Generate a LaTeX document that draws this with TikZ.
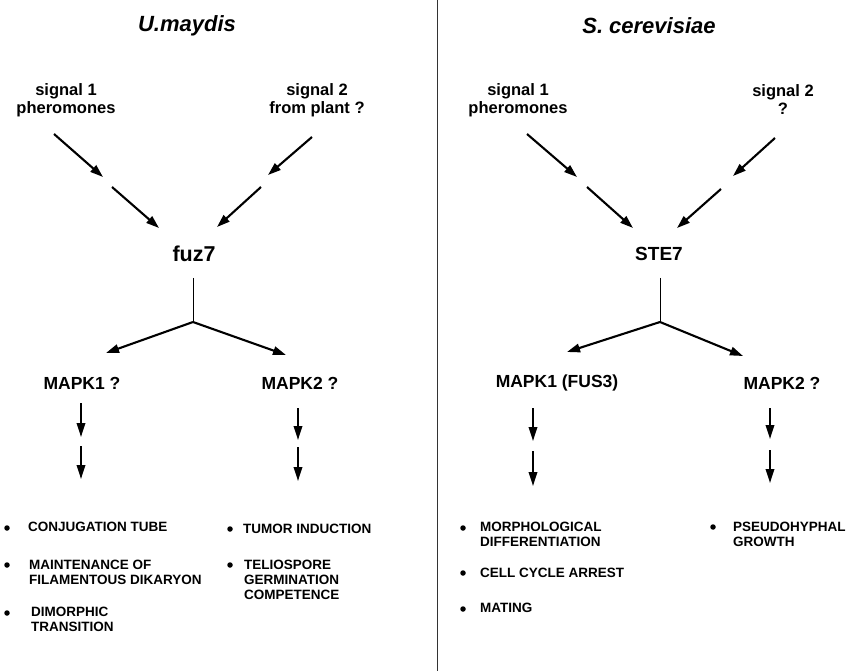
\documentclass[tikz,border=0pt]{standalone}
\usepackage{fontspec}
\setmainfont{Liberation Sans}
\usetikzlibrary{arrows.meta}
\begin{document}
\begin{tikzpicture}[x=1pt,y=-1pt,
  ttl/.style={font=\fontsize{22}{24}\selectfont\bfseries\itshape, inner sep=0},
  sig/.style={font=\fontsize{16.5}{18}\selectfont\bfseries, align=center, inner sep=0},
  kin/.style={font=\fontsize{21.5}{24}\selectfont\bfseries, inner sep=0},
  mapk/.style={font=\fontsize{17.5}{19}\selectfont\bfseries, inner sep=0},
  itm/.style={font=\fontsize{13.5}{15}\selectfont\bfseries, align=left, inner sep=0, anchor=north west},
  bul/.style={circle, fill=black, inner sep=0, minimum size=5.5pt},
  arr/.style={line width=2.1pt, -{Triangle[length=13pt,width=8.5pt]}},
  darr/.style={line width=1.8pt, -{Triangle[length=14pt,width=8.5pt]}},
  stem/.style={line width=1pt},
]
\useasboundingbox (0,0) rectangle (852,671);
\fill[white] (0,0) rectangle (852,671);

% divider
\coordinate (dtop) at (437,0);
\coordinate (dbot) at (437,671);
\draw[line width=0.9pt, black!80] (dtop) -- (dbot);

% ================= LEFT PANEL =================
\node[ttl] (tl) at (187,26) {U.maydis};
\node[sig] (ls1) at (66,100) {signal 1\\pheromones};
\node[sig] (ls2) at (317,100) {signal 2\\from plant ?};

\coordinate (la1s) at (54,134);  \coordinate (la1e) at (103,177);
\coordinate (la2s) at (112,187); \coordinate (la2e) at (159,228);
\coordinate (lb1s) at (312,137); \coordinate (lb1e) at (268,175);
\coordinate (lb2s) at (261,187); \coordinate (lb2e) at (217,227);
\draw[arr] (la1s) -- (la1e);
\draw[arr] (la2s) -- (la2e);
\draw[arr] (lb1s) -- (lb1e);
\draw[arr] (lb2s) -- (lb2e);

\node[kin] (fuz) at (194,254) {fuz7};
\coordinate (lst) at (193,278);
\coordinate (lbr) at (193,322);
\coordinate (ltl) at (106,353);
\coordinate (ltr) at (286,355);
\draw[stem] (lst) -- (lbr);
\draw[arr] (lbr) -- (ltl);
\draw[arr] (lbr) -- (ltr);

\node[mapk] (lm1) at (82,383) {MAPK1 ?};
\node[mapk] (lm2) at (300,383) {MAPK2 ?};

\coordinate (ld1s) at (81,403); \coordinate (ld1e) at (81,437);
\coordinate (ld2s) at (81,446); \coordinate (ld2e) at (81,479);
\coordinate (ld3s) at (298,408); \coordinate (ld3e) at (298,440);
\coordinate (ld4s) at (298,447); \coordinate (ld4e) at (298,481);
\draw[darr] (ld1s) -- (ld1e);
\draw[darr] (ld2s) -- (ld2e);
\draw[darr] (ld3s) -- (ld3e);
\draw[darr] (ld4s) -- (ld4e);

\node[bul] (lb1) at (7,528) {};
\node[itm] (li1) at (28,522) {CONJUGATION TUBE};
\node[bul] (lb2) at (7,565) {};
\node[itm] (li2) at (29,560) {MAINTENANCE OF\\FILAMENTOUS DIKARYON};
\node[bul] (lb3) at (7,613) {};
\node[itm] (li3) at (31,607) {DIMORPHIC\\TRANSITION};

\node[bul] (lb4) at (230,529) {};
\node[itm] (li4) at (243,524) {TUMOR INDUCTION};
\node[bul] (lb5) at (230,565) {};
\node[itm] (li5) at (244,560) {TELIOSPORE\\GERMINATION\\COMPETENCE};

% ================= RIGHT PANEL =================
\node[ttl] (tr) at (649,26) {S. cerevisiae};
\node[sig] (rs1) at (518,100) {signal 1\\pheromones};
\node[sig] (rs2) at (783,100) {signal 2\\?};

\coordinate (ra1s) at (527,134); \coordinate (ra1e) at (577,177);
\coordinate (ra2s) at (587,187); \coordinate (ra2e) at (633,228);
\coordinate (rb1s) at (775,138); \coordinate (rb1e) at (733,176);
\coordinate (rb2s) at (721,189); \coordinate (rb2e) at (677,228);
\draw[arr] (ra1s) -- (ra1e);
\draw[arr] (ra2s) -- (ra2e);
\draw[arr] (rb1s) -- (rb1e);
\draw[arr] (rb2s) -- (rb2e);

\node[font=\fontsize{19}{21}\selectfont\bfseries, inner sep=0] (ste) at (659,254) {STE7};
\coordinate (rst) at (660,278);
\coordinate (rbr) at (660,322);
\coordinate (rtl) at (567,352);
\coordinate (rtr) at (743,356);
\draw[stem] (rst) -- (rbr);
\draw[arr] (rbr) -- (rtl);
\draw[arr] (rbr) -- (rtr);

\node[mapk] (rm1) at (557,383) {MAPK1 (FUS3)};
\node[mapk] (rm2) at (782,383) {MAPK2 ?};

\coordinate (rd1s) at (533,408); \coordinate (rd1e) at (533,441);
\coordinate (rd2s) at (533,451); \coordinate (rd2e) at (533,486);
\coordinate (rd3s) at (770,408); \coordinate (rd3e) at (770,439);
\coordinate (rd4s) at (770,450); \coordinate (rd4e) at (770,483);
\draw[darr] (rd1s) -- (rd1e);
\draw[darr] (rd2s) -- (rd2e);
\draw[darr] (rd3s) -- (rd3e);
\draw[darr] (rd4s) -- (rd4e);

\node[bul] (rb1) at (463,528) {};
\node[itm] (ri1) at (480,522) {MORPHOLOGICAL\\DIFFERENTIATION};
\node[bul] (rb2) at (463,573) {};
\node[itm] (ri2) at (480,568) {CELL CYCLE ARREST};
\node[bul] (rb3) at (463,609) {};
\node[itm] (ri3) at (480,603) {MATING};

\node[bul] (rb4) at (713,527) {};
\node[itm] (ri4) at (733,522) {PSEUDOHYPHAL\\GROWTH};
\end{tikzpicture}
\end{document}
